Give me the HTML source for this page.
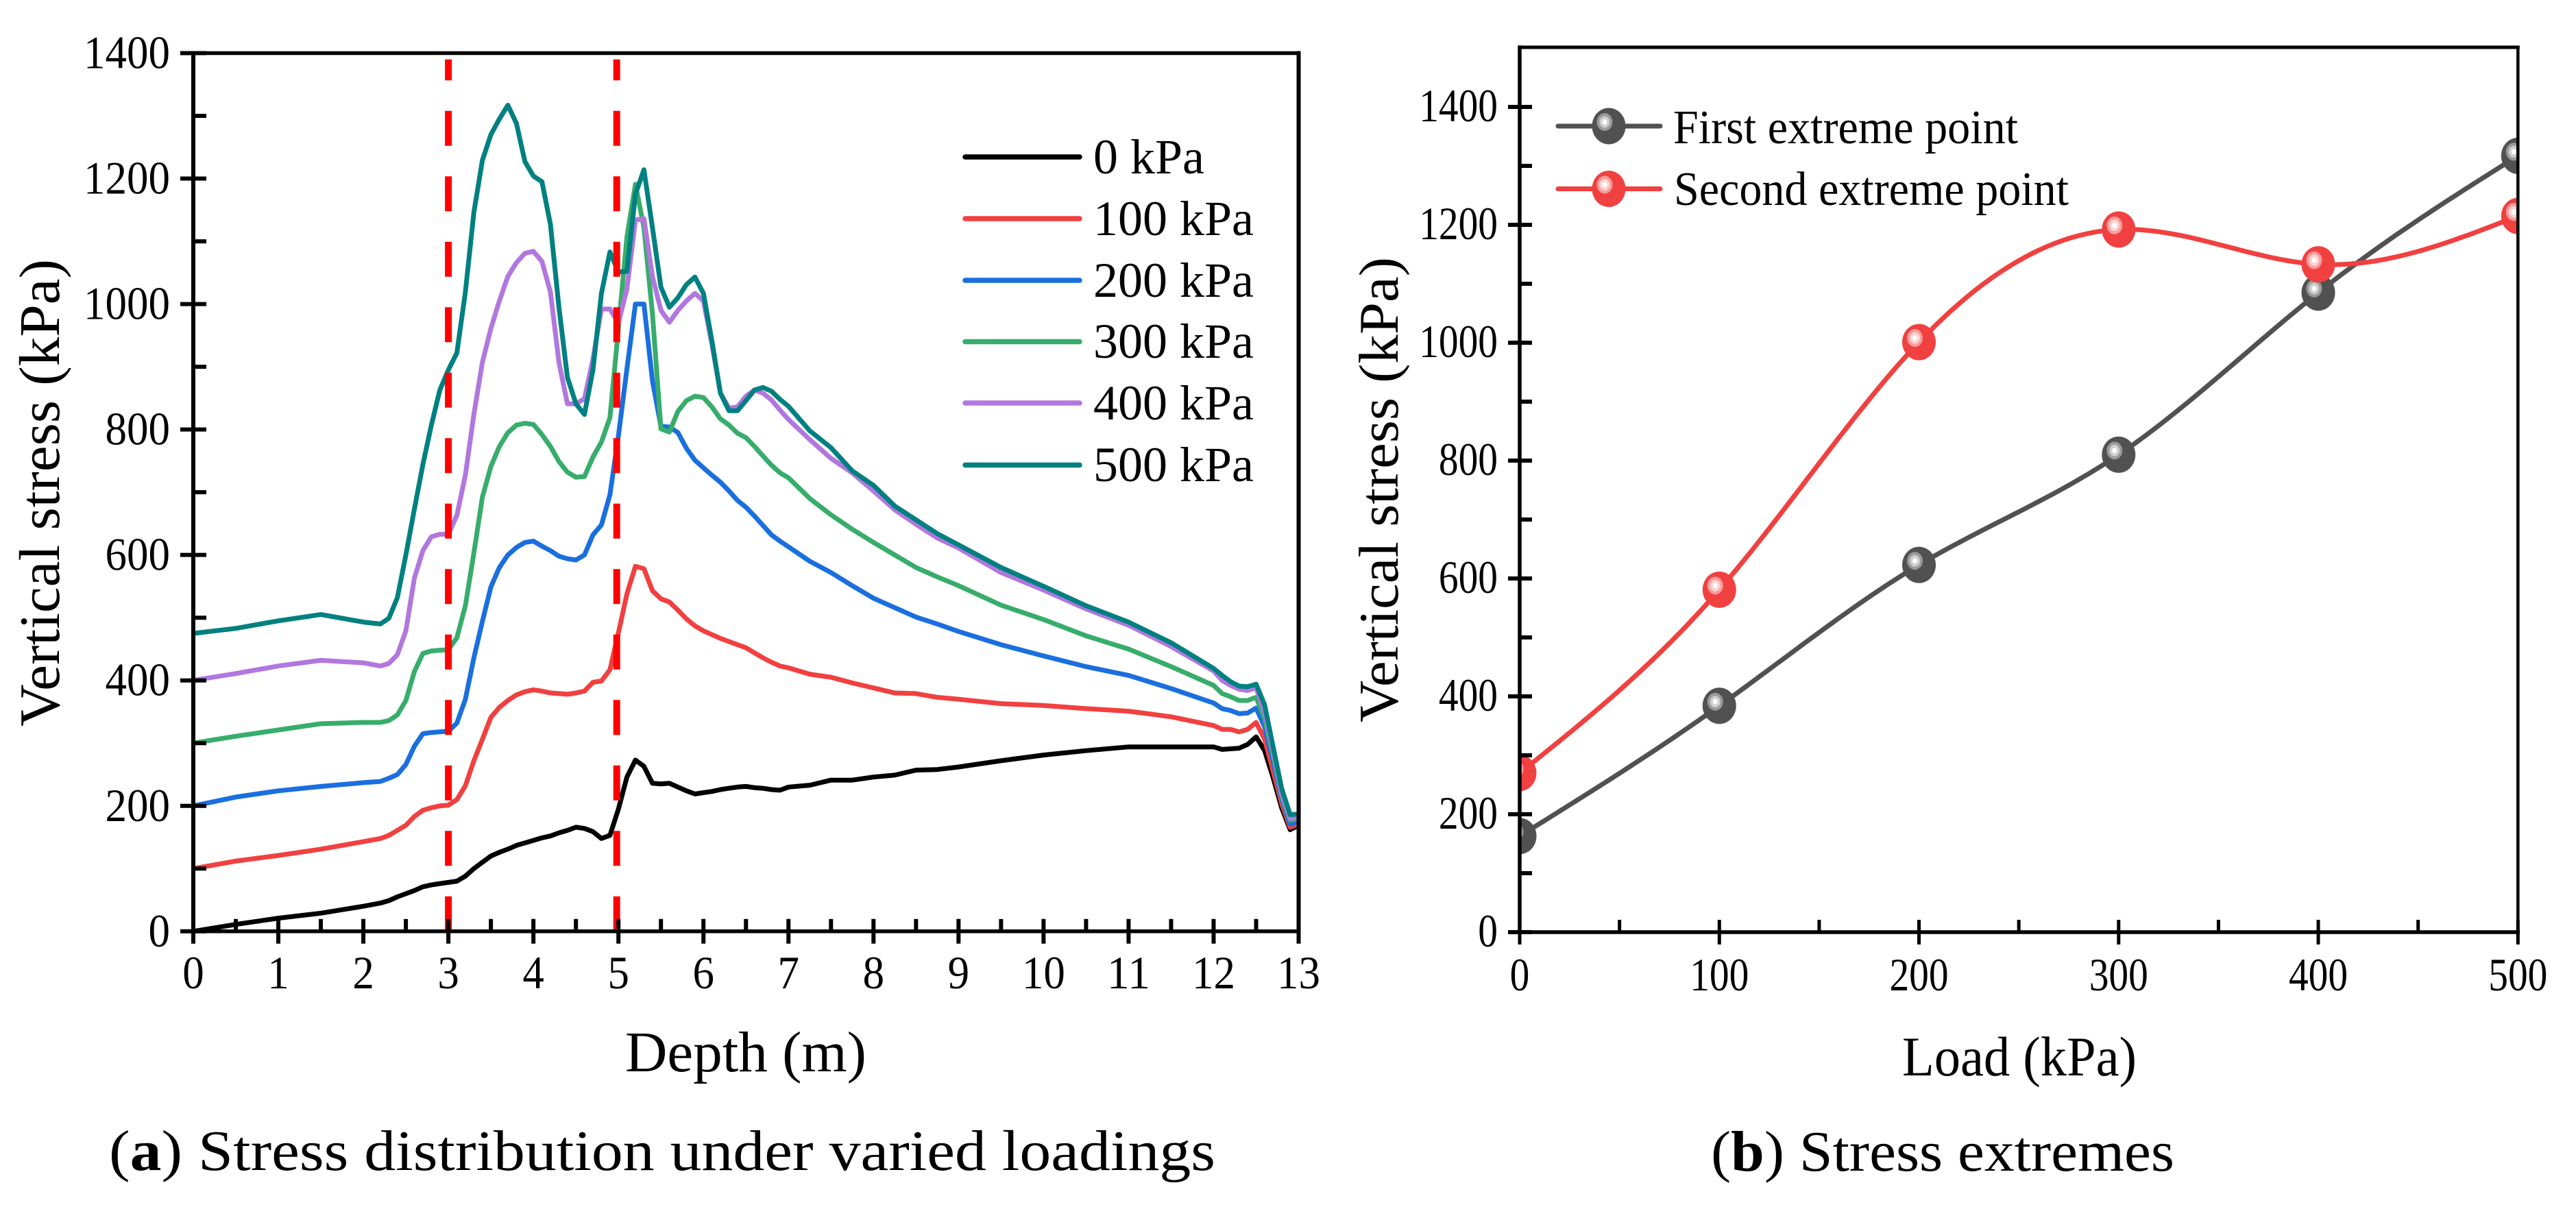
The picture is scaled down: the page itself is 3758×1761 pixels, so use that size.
<!DOCTYPE html>
<html lang="en">
<head>
<meta charset="utf-8">
<title>Stress distribution and stress extremes</title>
<style>
html,body{margin:0;padding:0;background:#fff;}
svg{display:block;}
text{font-family:"Liberation Serif",serif;fill:#000;}
</style>
</head>
<body>
<svg id="figure" xmlns="http://www.w3.org/2000/svg" width="3758" height="1761" viewBox="0 0 3758 1761">
  <rect x="0" y="0" width="3758" height="1761" fill="#fff"/>
  <defs>
    <clipPath id="plotBClip"><rect x="2217" y="69" width="1456" height="1291"/></clipPath>
  </defs>
  <g id="chartA"></g>
  <g id="chartB"></g>

  <text transform="translate(86,1060) rotate(-90)" font-size="84" textLength="682" lengthAdjust="spacingAndGlyphs">Vertical stress (kPa)</text>
  <text x="912" y="1563" font-size="84" textLength="352" lengthAdjust="spacingAndGlyphs">Depth (m)</text>
  <text x="159" y="1707" font-size="84" textLength="1614" lengthAdjust="spacingAndGlyphs">(<tspan font-weight="bold">a</tspan>) Stress distribution under varied loadings</text>

  <g font-size="72">
    <text x="1595" y="253">0 kPa</text>
    <text x="1595" y="343">100 kPa</text>
    <text x="1595" y="433">200 kPa</text>
    <text x="1595" y="522">300 kPa</text>
    <text x="1595" y="612">400 kPa</text>
    <text x="1595" y="702">500 kPa</text>
  </g>

  <text transform="translate(2039,1054) rotate(-90)" font-size="82" textLength="679" lengthAdjust="spacingAndGlyphs">Vertical stress (kPa)</text>
  <text x="2775" y="1569" font-size="82" textLength="342" lengthAdjust="spacingAndGlyphs">Load (kPa)</text>
  <text x="2496" y="1708" font-size="84" textLength="676" lengthAdjust="spacingAndGlyphs">(<tspan font-weight="bold">b</tspan>) Stress extremes</text>
  <text x="2441" y="209" font-size="70" textLength="503" lengthAdjust="spacingAndGlyphs">First extreme point</text>
  <text x="2442" y="299" font-size="70" textLength="576" lengthAdjust="spacingAndGlyphs">Second extreme point</text>
</svg>

<script>
// ---------- Chart (a) data ----------
const depths = [0,0.5,1,1.5,2,
  2.2,2.3,2.4,2.5,2.6,2.7,2.8,2.9,
  3,3.1,3.2,3.3,3.4,3.5,3.6,3.7,3.8,3.9,
  4,4.1,4.2,4.3,4.4,4.5,4.6,4.7,4.8,4.9,
  5,5.1,5.2,5.3,5.4,5.5,5.6,5.7,5.8,5.9,
  6,6.1,6.2,6.3,6.4,6.5,6.6,6.7,6.8,6.9,7,
  7.25,7.5,7.75,8,8.25,8.5,8.75,9,
  9.5,10,10.5,11,11.5,12,
  12.1,12.2,12.3,12.4,12.5,12.6,12.7,12.8,12.9,13];
const stress0 = [0,11,21,29,40,
  45,49,55,60,65,71,74,76,
  78,80,88,100,110,120,126,131,137,141,
  145,149,152,157,161,166,164,159,148,153,
  195,246,273,263,236,235,236,230,224,219,
  221,223,226,228,230,231,229,228,226,225,230,
  233,241,241,246,249,257,258,262,
  272,281,288,294,294,294,
  290,291,292,298,310,288,245,197,162,169];
const stress100 = [100,112,121,131,143,
  148,153,161,169,183,193,197,200,
  201,210,232,272,306,341,357,368,377,382,
  385,383,380,379,378,380,383,397,399,417,
  476,538,582,578,543,530,525,512,498,487,
  479,473,467,462,457,452,444,436,429,423,420,
  410,405,396,388,380,379,373,370,
  363,360,355,351,342,328,
  322,322,318,322,333,306,255,204,166,171];
const stress200 = [200,214,224,231,237,
  239,244,250,266,295,315,317,318,
  319,332,370,436,494,549,580,600,612,620,
  622,614,607,598,594,592,600,632,648,696,
  790,897,1000,1000,878,805,804,795,770,751,
  739,727,716,702,687,676,662,647,632,622,613,
  590,572,551,531,516,501,490,478,
  457,439,422,408,387,364,
  355,352,347,348,356,326,271,212,171,175];
const stress300 = [300,311,321,331,333,
  333,336,345,368,414,443,447,448,
  449,468,519,603,692,741,773,795,807,810,
  808,792,773,749,732,724,725,756,780,819,
  961,1107,1191,1122,985,801,796,829,846,853,
  851,836,817,807,794,787,773,758,743,731,723,
  690,664,641,620,600,580,565,551,
  520,497,471,450,422,392,
  379,374,368,368,373,339,281,216,177,180];
const stress400 = [400,411,423,432,428,
  423,427,441,479,563,607,629,633,
  633,663,727,824,907,961,1005,1044,1066,1081,
  1084,1068,1019,907,841,841,849,912,992,992,
  970,1024,1134,1136,1044,990,971,990,1005,1017,
  1005,936,858,834,836,853,863,858,847,831,816,
  784,754,731,702,672,649,627,611,
  572,544,514,488,454,415,
  400,392,386,384,388,349,287,220,180,182];
const stress500 = [475,483,495,505,493,
  490,499,532,600,673,744,807,863,
  895,922,1019,1146,1229,1270,1295,1317,1288,1227,
  1204,1195,1127,995,883,841,824,895,1017,1083,
  1051,1052,1175,1214,1122,1027,995,1010,1031,1043,
  1017,941,858,830,830,846,863,867,861,848,837,
  798,771,734,711,678,656,634,616,
  580,550,519,493,460,419,
  408,398,391,390,394,361,294,228,186,187];
const seriesAValues = [stress0,stress100,stress200,stress300,stress400,stress500];
const seriesANames = ['0-kpa','100-kpa','200-kpa','300-kpa','400-kpa','500-kpa'];
const seriesAColors = ['#000000','#F14040','#1A6FDF','#37AD6B','#B177DE','#008080'];
const depthTicks = [0,1,2,3,4,5,6,7,8,9,10,11,12,13];
const depthMinorTicks = [0.5,1.5,2.5,3.5,4.5,5.5,6.5,7.5,8.5,9.5,10.5,11.5,12.5];
const stressTicksA = [0,200,400,600,800,1000,1200,1400];
const stressMinorTicksA = [100,300,500,700,900,1100,1300];
const boundaryDepths = [3,4.98];
const boundaryTop = 1390;

// ---------- Chart (b) data ----------
const loads = [0,100,200,300,400,500];
const firstExtreme = [163,384,623,810,1085,1317];
const secondExtreme = [270,581,1001,1192,1133,1215];
const loadTicks = [0,100,200,300,400,500];
const loadMinorTicks = [50,150,250,350,450];
const stressTicksB = [0,200,400,600,800,1000,1200,1400];
const stressMinorTicksB = [100,300,500,700,900,1100,1300];

// ---------- Axis functions ----------
const xA = d => 282 + d * 124.04;
const yA = v => 1358.8 - v * 0.9152;
const xB = l => 2217 + l * 2.9126;
const yB = v => 1360 - v * 0.86;

const NS = 'http://www.w3.org/2000/svg';
const chartA = document.getElementById('chartA');
const chartB = document.getElementById('chartB');

function make(parent, tag, attrs) {
  const el = document.createElementNS(NS, tag);
  for (const k in attrs) el.setAttribute(k, attrs[k]);
  parent.appendChild(el);
  return el;
}
function axisLine(parent, x1, y1, x2, y2, w) {
  return make(parent, 'line', {x1, y1, x2, y2, stroke: '#000', 'stroke-width': w, 'stroke-linecap': 'square'});
}
function tickLine(parent, x1, y1, x2, y2, w) {
  return make(parent, 'line', {x1, y1, x2, y2, stroke: '#000', 'stroke-width': w});
}
function naturalSpline(xs, ys, step) {
  const n = xs.length, h = [], a = [0], l = [1], mu = [0], z = [0];
  for (let i = 0; i < n - 1; i++) h.push(xs[i + 1] - xs[i]);
  for (let i = 1; i < n - 1; i++) {
    a[i] = 3 * (ys[i + 1] - ys[i]) / h[i] - 3 * (ys[i] - ys[i - 1]) / h[i - 1];
    l[i] = 2 * (xs[i + 1] - xs[i - 1]) - h[i - 1] * mu[i - 1];
    mu[i] = h[i] / l[i];
    z[i] = (a[i] - h[i - 1] * z[i - 1]) / l[i];
  }
  const c = new Array(n).fill(0), b = [], d = [];
  for (let j = n - 2; j >= 0; j--) {
    c[j] = z[j] - mu[j] * c[j + 1];
    b[j] = (ys[j + 1] - ys[j]) / h[j] - h[j] * (c[j + 1] + 2 * c[j]) / 3;
    d[j] = (c[j + 1] - c[j]) / (3 * h[j]);
  }
  const out = [];
  for (let i = 0; i < n - 1; i++) {
    for (let t = 0; t < h[i]; t += step) {
      out.push([xs[i] + t, ys[i] + b[i] * t + c[i] * t * t + d[i] * t * t * t]);
    }
  }
  out.push([xs[n - 1], ys[n - 1]]);
  return out;
}

// ---------- Chart (a) series ----------
seriesAValues.forEach((vals, s) => {
  const p = make(chartA, 'path', {
    d: 'M' + vals.map((v, i) => xA(depths[i]).toFixed(1) + ' ' + yA(v).toFixed(1)).join('L'),
    fill: 'none', stroke: seriesAColors[s], 'stroke-width': 7, 'stroke-linejoin': 'round'
  });
  
  
});

boundaryDepths.forEach((d, i) => {
  const l = make(chartA, 'line', {
    x1: xA(d), y1: yA(0), x2: xA(d), y2: yA(boundaryTop),
    stroke: '#ff0000', 'stroke-width': 10, 'stroke-dasharray': '51 44.5'
  });
  
  
});

// ---------- Chart (a) legend lines ----------
const legendAY = [229, 319, 409, 498.5, 588, 678.5];
seriesAColors.forEach((c, i) => {
  const l = make(chartA, 'line', {x1: 1408, y1: legendAY[i], x2: 1575, y2: legendAY[i], stroke: c, 'stroke-width': 7.5, 'stroke-linecap': 'round'});
  
  
});

// ---------- Chart (a) axes ----------
const frameA = make(chartA, 'g', {});


axisLine(frameA, xA(0), yA(0), xA(0), yA(1400), 6);
axisLine(frameA, xA(0), yA(0), xA(13), yA(0), 5.5);
axisLine(frameA, xA(0), yA(1400), xA(13), yA(1400), 5.5);
axisLine(frameA, xA(13), yA(0), xA(13), yA(1400), 6);
stressTicksA.forEach(v => {
  tickLine(frameA, xA(0) - 19, yA(v), xA(0) + 19, yA(v), 6);
  const t = make(frameA, 'text', {x: 248, y: yA(v) + 22, 'font-size': 68, 'text-anchor': 'end', textLength: String(v).length * 31.5, lengthAdjust: 'spacingAndGlyphs'});
  t.textContent = v;
  
  
});
stressMinorTicksA.forEach(v => tickLine(frameA, xA(0), yA(v), xA(0) + 19, yA(v), 6));
depthTicks.forEach(d => {
  tickLine(frameA, xA(d), yA(0) - 18, xA(d), yA(0) + 18, 6);
  const t = make(frameA, 'text', {x: xA(d), y: 1442, 'font-size': 68, 'text-anchor': 'middle', textLength: String(d).length * 31.5, lengthAdjust: 'spacingAndGlyphs'});
  t.textContent = d;
  
  
});
depthMinorTicks.forEach(d => tickLine(frameA, xA(d), yA(0) - 18, xA(d), yA(0), 6));

// ---------- Chart (b) series ----------
const ballGrey = {base: '#515151', outer: '#9a9a9a', mid: '#cfcfcf'};
const ballRed = {base: '#F14040', outer: '#f89c9c', mid: '#fcd2d2'};
function ball(parent, cx, cy, pal) {
  make(parent, 'ellipse', {cx, cy, rx: 24.5, ry: 26.5, fill: pal.base});
  make(parent, 'ellipse', {cx: cx - 6, cy: cy - 6, rx: 11.5, ry: 13, fill: pal.outer});
  make(parent, 'ellipse', {cx: cx - 6, cy: cy - 6, rx: 7.5, ry: 8.5, fill: pal.mid});
  make(parent, 'ellipse', {cx: cx - 6, cy: cy - 6, rx: 3.5, ry: 4, fill: '#fff'});
}
const plotB = make(chartB, 'g', {'clip-path': 'url(#plotBClip)'});


[[firstExtreme, '#515151', ballGrey, 'first-extreme'], [secondExtreme, '#F14040', ballRed, 'second-extreme']].forEach(([vals, col, pal, nm]) => {
  const pts = naturalSpline(loads, vals, 4);
  const p = make(plotB, 'path', {
    d: 'M' + pts.map(q => xB(q[0]).toFixed(1) + ' ' + yB(q[1]).toFixed(1)).join('L'),
    fill: 'none', stroke: col, 'stroke-width': 7
  });
  
  
});
[[firstExtreme, ballGrey, 'first-extreme'], [secondExtreme, ballRed, 'second-extreme']].forEach(([vals, pal, nm]) => {
  vals.forEach((v, i) => {
    const g = make(plotB, 'g', {});
    
    
    ball(g, xB(loads[i]), yB(v), pal);
  });
});

// ---------- Chart (b) legend marks ----------
[[184, '#515151', ballGrey, 'first-extreme'], [275.5, '#F14040', ballRed, 'second-extreme']].forEach(([y, col, pal, nm]) => {
  const g = make(chartB, 'g', {});
  
  
  make(g, 'line', {x1: 2273, y1: y, x2: 2422, y2: y, stroke: col, 'stroke-width': 7, 'stroke-linecap': 'round'});
  ball(g, 2347, y, pal);
});

// ---------- Chart (b) axes ----------
const frameB = make(chartB, 'g', {});


axisLine(frameB, xB(0), yB(0), xB(0), 69, 5.5);
axisLine(frameB, xB(0), yB(0), xB(500), yB(0), 5.5);
axisLine(frameB, xB(0), 69, xB(500), 69, 5);
axisLine(frameB, xB(500), yB(0), xB(500), 69, 4.5);
stressTicksB.forEach(v => {
  tickLine(frameB, xB(0) - 17, yB(v), xB(0) + 18, yB(v), 6);
  const t = make(frameB, 'text', {x: 2185, y: yB(v) + 21, 'font-size': 68, 'text-anchor': 'end', textLength: String(v).length * 28.7, lengthAdjust: 'spacingAndGlyphs'});
  t.textContent = v;
  
  
});
stressMinorTicksB.forEach(v => tickLine(frameB, xB(0), yB(v), xB(0) + 18, yB(v), 6));
loadTicks.forEach(l => {
  tickLine(frameB, xB(l), yB(0) - 18, xB(l), yB(0) + 18, 5);
  const t = make(frameB, 'text', {x: xB(l), y: 1445, 'font-size': 68, 'text-anchor': 'middle', textLength: String(l).length * 28.7, lengthAdjust: 'spacingAndGlyphs'});
  t.textContent = l;
  
  
});
loadMinorTicks.forEach(l => tickLine(frameB, xB(l), yB(0) - 18, xB(l), yB(0), 5));
</script>
</body>
</html>
